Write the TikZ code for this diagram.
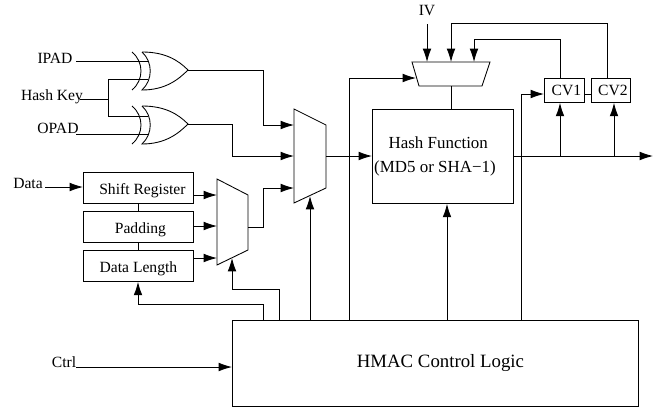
\documentclass[tikz,border=0pt]{standalone}
\usepackage{fontspec}
\setmainfont{Liberation Serif}
\usetikzlibrary{arrows.meta}
\newcommand{\lowtxt}[1]{\raisebox{-2pt}[\height][\depth]{#1}}
\tikzset{
	>={Latex[length=10pt,width=6.5pt]},
	blockbox/.style={draw,line width=0.65pt,inner sep=0pt,anchor=north west},
	txt/.style={inner sep=0pt,font=\fontsize{11.7}{13}\selectfont},
	xorgate/.pic={
		\draw (10,0) .. controls (33,0) and (46,8) .. (56,18) .. controls (46,28) and (33,38) .. (10,38)
			.. controls (21,28) and (21,10) .. (10,0);
		\draw (0,0) .. controls (12,10) and (12,28) .. (0,38);
		\coordinate (-out) at (56,18);
	}
}
\begin{document}
\begin{tikzpicture}[x=0.75pt,y=-0.75pt,line width=0.65pt]
	\useasboundingbox (0,0) rectangle (664,407);

	% Labels on the left
	\node[txt] (ipad) at (55,58) {IPAD};
	\node[txt] (hashkey) at (52,97) {Hash Key};
	\node[txt] (opad) at (58,128) {OPAD};
	\node[txt] (data) at (28,183) {Data};
	\node[txt] (ctrl) at (64,362) {Ctrl};
	\node[txt] (iv) at (427,11) {IV};

	% Free ends of the input wires
	\coordinate (ipadend) at (76,61);
	\coordinate (keyend) at (80,99);
	\coordinate (opadend) at (76,134);
	\coordinate (dataend) at (45,187);
	\coordinate (ctrlend) at (76,367);
	\coordinate (ivend) at (427,24);

	% Gates
	\pic (xa) at (132,52) {xorgate};
	\pic (xb) at (132,106) {xorgate};

	% Blocks
	\node[blockbox,minimum width=82.5pt,minimum height=23.25pt,txt] (shift) at (83,172) {\hspace*{6pt}\lowtxt{Shift Register}};
	\node[blockbox,minimum width=82.5pt,minimum height=23.25pt,txt] (padding) at (83,211) {\hspace*{3pt}\lowtxt{Padding}};
	\node[blockbox,minimum width=82.5pt,minimum height=23.25pt,txt] (length) at (83,250) {\lowtxt{Data Length}};
	\node[blockbox,minimum width=105.75pt,minimum height=70.5pt,align=center,font=\fontsize{12.7}{17.5}\selectfont] (hash) at (372,109) {Hash Function\hspace*{7pt}\\(MD5 or SHA−1)\hspace*{12pt}};
	\node[blockbox,minimum width=30pt,minimum height=18pt,txt] (cva) at (544,78) {\hspace*{3pt}CV1};
	\node[blockbox,minimum width=29.25pt,minimum height=18pt,txt] (cvb) at (591,78) {\hspace*{3pt}CV2};
	\node[blockbox,minimum width=304.5pt,minimum height=64.5pt,font=\fontsize{14.1}{16}\selectfont] (hmac) at (232,320) {\hspace*{7.5pt}HMAC Control Logic};

	% Muxes
	\draw (217,179) -- (248,195) -- (248,250) -- (217,265) -- cycle;
	\draw (294,109) -- (326,125) -- (326,188) -- (294,203) -- cycle;
	\draw (412,62) -- (490,62) -- (482,86) -- (419,86) -- cycle;
	\coordinate (muxaout) at (248,227);
	\coordinate (muxbout) at (326,156);
	\coordinate (muxcout) at (451,86);

	% Gate inputs
	\draw (ipadend) -- (148,61);
	\draw (opadend) -- (148,134);
	\draw (keyend) -- (108,99);
	\draw (148,79) -- (108,79) -- (108,116) -- (148,116);

	% Into the big mux
	\draw[->] (xa-out) -| (263,125) -- (294,125);
	\draw[->] (xb-out) -| (232,156) -- (294,156);
	\draw[->] (muxaout) -| (263,188) -- (294,188);
	\draw[->] (muxbout) -- (hash.west |- muxbout);

	% Registers
	\draw[->] (dataend) -- (shift.west |- dataend);
	\draw (shift.south -| 138,0) -- (padding.north -| 138,0);
	\draw (padding.south -| 138,0) -- (length.north -| 138,0);
	\draw[->] (193,195) -- (217,195);
	\draw[->] (193,226) -- (217,226);
	\draw[->] (193,258) -- (217,258);

	% Control lines
	\draw[->] (ctrlend) -- (hmac.west |- ctrlend);
	\draw[->] (hmac.north -| 263,0) -- (263,304) -| (length.south -| 138,0);
	\draw[->] (hmac.north -| 279,0) -- (279,289) -| (232,258);
	\draw[->] (hmac.north -| 310,0) -- (310,196);
	\draw[->] (hmac.north -| 349,0) -- (349,78) -- (416,78);
	\draw[->] (hmac.north -| 447,0) -- (hash.south -| 447,0);
	\draw[->] (hmac.north -| 521,0) -- (521,94) -- (cva.west |- 0,94);

	% Top of the hash block
	\draw[->] (ivend) -- (427,62);
	\draw (muxcout) -- (hash.north -| muxcout);
	\draw[->] (cvb.north -| 607,0) -- (607,23) -| (451,62);
	\draw[->] (cva.north -| 560,0) -- (560,39) -| (474,62);
	\draw (cva.east |- 0,94) -- (cvb.west |- 0,94);

	% Hash output
	\draw[->] (hash.east |- 0,156) -- (653,156);
	\draw[->] (560,156) -- (cva.south -| 560,0);
	\draw[->] (614,156) -- (cvb.south -| 614,0);
\end{tikzpicture}
\end{document}
